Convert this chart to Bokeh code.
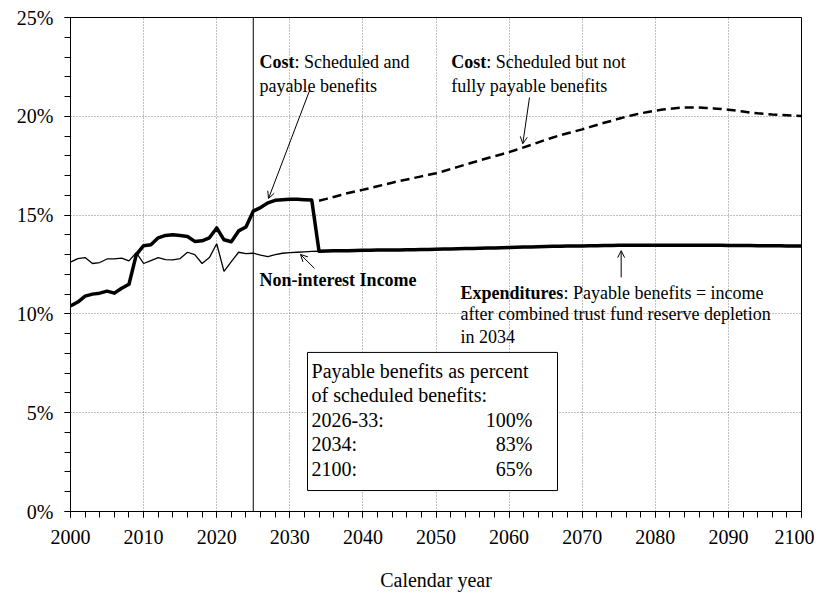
from bokeh.plotting import figure
from bokeh.models import (Range1d, FixedTicker, PrintfTickFormatter, Span, Label,
                          Arrow, OpenHead, BoxAnnotation)
from bokeh.embed import file_html
from bokeh.resources import INLINE

# ---- data (percent of taxable payroll) ----
years_cost = list(range(2000, 2034))
cost_sched_payable = [
    10.4, 10.6, 10.9, 11.0, 11.05, 11.15, 11.05, 11.3, 11.5, 13.0,
    13.45, 13.5, 13.85, 13.97, 14.0, 13.97, 13.92, 13.67, 13.7, 13.85,
    14.35, 13.75, 13.65, 14.2, 14.4, 15.2, 15.38, 15.62, 15.75, 15.78,
    15.8, 15.8, 15.78, 15.76]

years_income = list(range(2000, 2035))
income = [
    12.62, 12.8, 12.85, 12.55, 12.6, 12.78, 12.78, 12.82, 12.68, 13.1,
    12.55, 12.7, 12.85, 12.75, 12.73, 12.8, 13.12, 13.0, 12.55, 12.85,
    13.55, 12.15, 12.65, 13.12, 13.05, 13.07, 12.98, 12.9, 13.0, 13.07,
    13.1, 13.12, 13.14, 13.16, 13.17]

years_proj = list(range(2034, 2101))
payable = [
    13.17, 13.18, 13.19, 13.2, 13.2, 13.21,
    13.22, 13.22, 13.23, 13.23, 13.24, 13.24, 13.25, 13.25, 13.26, 13.26,
    13.27, 13.28, 13.29, 13.3, 13.31, 13.31, 13.32, 13.33, 13.34, 13.35,
    13.36, 13.37, 13.38, 13.39, 13.4, 13.41, 13.42, 13.42, 13.43, 13.44,
    13.44, 13.45, 13.45, 13.46, 13.46, 13.47, 13.47, 13.47, 13.48, 13.48,
    13.48, 13.48, 13.48, 13.48, 13.48, 13.48, 13.47, 13.47, 13.47, 13.47,
    13.46, 13.46, 13.46, 13.46, 13.45, 13.45, 13.45, 13.45, 13.44, 13.44,
    13.44]
sched_not_payable = [
    15.73, 15.82, 15.92, 16.02, 16.12, 16.2,
    16.28, 16.37, 16.46, 16.55, 16.64, 16.73, 16.8, 16.88, 16.96, 17.04,
    17.12, 17.22, 17.33, 17.44, 17.55, 17.66, 17.77, 17.88, 17.98, 18.08,
    18.19, 18.31, 18.43, 18.55, 18.68, 18.81, 18.93, 19.04, 19.14, 19.24,
    19.34, 19.45, 19.56, 19.67, 19.77, 19.88, 19.98, 20.07, 20.15, 20.22,
    20.28, 20.34, 20.38, 20.42, 20.44, 20.45, 20.44, 20.42, 20.4, 20.37,
    20.33, 20.29, 20.24, 20.19, 20.15, 20.12, 20.09, 20.07, 20.05, 20.03,
    20.02]

x_ticks = list(range(2000, 2101, 10))
x_minor = list(range(2000, 2101, 2))
y_ticks = [0, 5, 10, 15, 20, 25]
y_minor = list(range(0, 26))
depletion_marker_year = 2025

box_rows = ["2026-33:", "2034:", "2100:"]
box_values = ["100%", "83%", "65%"]

FONT = "Liberation Serif"

p = figure(width=814, height=597, x_range=Range1d(2000, 2100), y_range=Range1d(0, 25),
           output_backend="svg", toolbar_location=None,
           min_border_left=70, min_border_right=13, min_border_top=17, min_border_bottom=86)
p.background_fill_color = "white"
p.border_fill_color = "white"
p.outline_line_color = "black"
p.outline_line_width = 1

# axes
p.xaxis.ticker = FixedTicker(ticks=x_ticks, minor_ticks=x_minor)
p.yaxis.ticker = FixedTicker(ticks=y_ticks, minor_ticks=y_minor)
p.yaxis.formatter = PrintfTickFormatter(format="%d%%")
for ax in (p.xaxis, p.yaxis):
    ax.axis_line_color = "black"
    ax.major_tick_line_color = "black"
    ax.minor_tick_line_color = "black"
    ax.major_tick_in = 0
    ax.minor_tick_in = 0
    ax.major_tick_out = 6
    ax.minor_tick_out = 6
    ax.major_label_text_font = FONT
    ax.major_label_text_font_size = "20px"
    ax.major_label_text_color = "black"
p.yaxis.major_label_standoff = 11
p.xaxis.major_label_standoff = 12
p.xaxis.axis_label = "Calendar year"
p.xaxis.axis_label_text_font = FONT
p.xaxis.axis_label_text_font_size = "20px"
p.xaxis.axis_label_text_font_style = "normal"
p.xaxis.axis_label_text_color = "black"
p.xaxis.axis_label_standoff = 22

for g in (p.xgrid, p.ygrid):
    g.grid_line_color = "#808080"
    g.grid_line_dash = "1 2"
    g.grid_line_width = 1

# lines
p.line(years_income, income, line_color="black", line_width=1.3)
p.line(years_cost + years_proj, cost_sched_payable + payable, line_color="black",
       line_width=3.5, line_join="round")
p.line(years_proj, sched_not_payable, line_color="black", line_width=2.5, line_dash="9 5")

p.add_layout(Span(location=depletion_marker_year, dimension="height",
                  line_color="black", line_width=1))

# percent box
p.add_layout(BoxAnnotation(left=2032.42, right=2066.62, bottom=1.06, top=8.05,
                           fill_color="white", fill_alpha=1.0,
                           line_color="black", line_width=1, line_alpha=1.0))

DY = 0.35  # raise texts slightly


def lab(x, y, text, bold=False, size="18px", x_offset=0, align="left"):
    p.add_layout(Label(x=x, y=y + DY, text=text, x_offset=x_offset,
                       text_font=FONT, text_font_size=size,
                       text_font_style="bold" if bold else "normal",
                       text_color="black", text_baseline="alphabetic",
                       text_align=align))


lab(2032.97, 6.78, "Payable benefits as percent", size="20px")
lab(2032.97, 5.54, "of scheduled benefits:", size="20px")
for i, (r, v) in enumerate(zip(box_rows, box_values)):
    yy = 4.30 - i * 1.24
    lab(2032.97, yy, r, size="20px")
    lab(2063.2, yy, v, size="20px", align="right")

# annotations
lab(2025.85, 22.42, "Cost", bold=True)
lab(2025.85, 22.42, ": Scheduled and", x_offset=35)
lab(2025.85, 21.2, "payable benefits")

lab(2052.1, 22.42, "Cost", bold=True)
lab(2052.1, 22.42, ": Scheduled but not", x_offset=35)
lab(2052.1, 21.2, "fully payable benefits")

lab(2025.85, 11.39, "Non-interest Income", bold=True)

lab(2053.35, 10.73, "Expenditures", bold=True)
lab(2053.35, 10.73, ": Payable benefits = income", x_offset=103)
lab(2053.35, 9.62, "after combined trust fund reserve depletion")
lab(2053.35, 8.50, "in 2034")


def arrow(x0, y0, x1, y1):
    p.add_layout(Arrow(end=OpenHead(size=7, line_width=1, line_color="black"),
                       x_start=x0, y_start=y0, x_end=x1, y_end=y1,
                       line_color="black", line_width=1))


arrow(2032.7, 21.3, 2027.09, 15.84)
arrow(2062.79, 20.95, 2061.87, 18.61)
arrow(2033.38, 12.3, 2031.46, 13.01)
arrow(2075.33, 11.85, 2075.33, 13.2)

open("out.html", "w").write(file_html(p, INLINE))
